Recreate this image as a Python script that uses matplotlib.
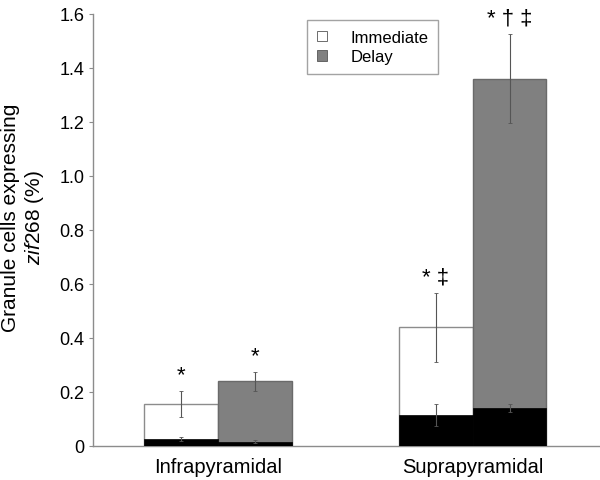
import numpy as np
import matplotlib.pyplot as plt
from matplotlib.patches import Patch

plt.rcParams['font.family'] = ['Liberation Sans', 'DejaVu Sans']
plt.rcParams['mathtext.fontset'] = 'custom'
plt.rcParams['mathtext.rm'] = 'Liberation Sans'
plt.rcParams['mathtext.it'] = 'Liberation Sans:italic'

# data
regions = ['Infrapyramidal', 'Suprapyramidal']
immediate = [0.156, 0.44]
immediate_err = [0.048, 0.128]
delay = [0.24, 1.36]
delay_err = [0.035, 0.165]
imm_black = [0.025, 0.115]
imm_black_err = [0.008, 0.04]
del_black = [0.015, 0.14]
del_black_err = [0.005, 0.015]
imm_marks = ['*', '* \u2021']
del_marks = ['*', '* \u2020 \u2021']

x = np.arange(len(regions))
w = 0.29
gray = '#8c8c8c'

fig = plt.figure(figsize=(6, 4.81), dpi=100)
ax = fig.add_axes([0.155, 0.071, 0.845, 0.898])

ax.bar(x - w/2, immediate, w, color='white', edgecolor=gray, linewidth=1, zorder=2)
ax.bar(x + w/2, delay, w, color='#808080', edgecolor='#6a6a6a', linewidth=1, zorder=2)
ax.bar(x - w/2, imm_black, w, color='black', edgecolor='black', linewidth=0.5, zorder=3)
ax.bar(x + w/2, del_black, w, color='black', edgecolor='black', linewidth=0.5, zorder=3)

ekw = dict(fmt='none', ecolor='#555555', elinewidth=0.8, capsize=1.5, capthick=0.6, zorder=4)
ax.errorbar(x - w/2, immediate, yerr=immediate_err, **ekw)
ax.errorbar(x + w/2, delay, yerr=delay_err, **ekw)
ax.errorbar(x - w/2, imm_black, yerr=imm_black_err, **ekw)
ax.errorbar(x + w/2, del_black, yerr=del_black_err, **ekw)

# significance marks
for i in range(len(regions)):
    ax.text(x[i] - w/2, immediate[i] + immediate_err[i] + 0.02, imm_marks[i],
            ha='center', va='bottom', fontsize=16)
    ax.text(x[i] + w/2, delay[i] + delay_err[i] + 0.02, del_marks[i],
            ha='center', va='bottom', fontsize=16)

ax.set_xlim(-0.49, 1.5)
ax.set_ylim(0, 1.6)
ax.set_yticks(np.arange(0, 1.61, 0.2))
ax.set_yticklabels(['0'] + ['%.1f' % v for v in np.arange(0.2, 1.61, 0.2)], fontsize=13)
ax.set_xticks(x)
ax.set_xticklabels(regions, fontsize=14.5)
ax.tick_params(axis='x', length=0, pad=8)
ax.tick_params(axis='y', length=3, color=gray, width=0.8, pad=3)
for s in ['top', 'right']:
    ax.spines[s].set_visible(False)
for s in ['left', 'bottom']:
    ax.spines[s].set_color(gray)
    ax.spines[s].set_linewidth(1)

ax.set_ylabel('Granule cells expressing\n$\\it{zif268}$ (%)', fontsize=15, linespacing=1.15)
ax.yaxis.set_label_coords(-0.093, 0.53)

handles = [Patch(facecolor='white', edgecolor='#555555', linewidth=0.6, label='Immediate'),
           Patch(facecolor='#808080', edgecolor='#555555', linewidth=0.6, label='Delay')]
leg = ax.legend(handles=handles, loc='upper left', bbox_to_anchor=(0.422, 0.986),
                fontsize=12, fancybox=False, edgecolor=gray, handlelength=0.6,
                handleheight=0.6, handletextpad=1.4, borderpad=0.6, labelspacing=0.25,
                borderaxespad=0)
leg.get_frame().set_linewidth(1)

fig.savefig('out.png', dpi=100)
